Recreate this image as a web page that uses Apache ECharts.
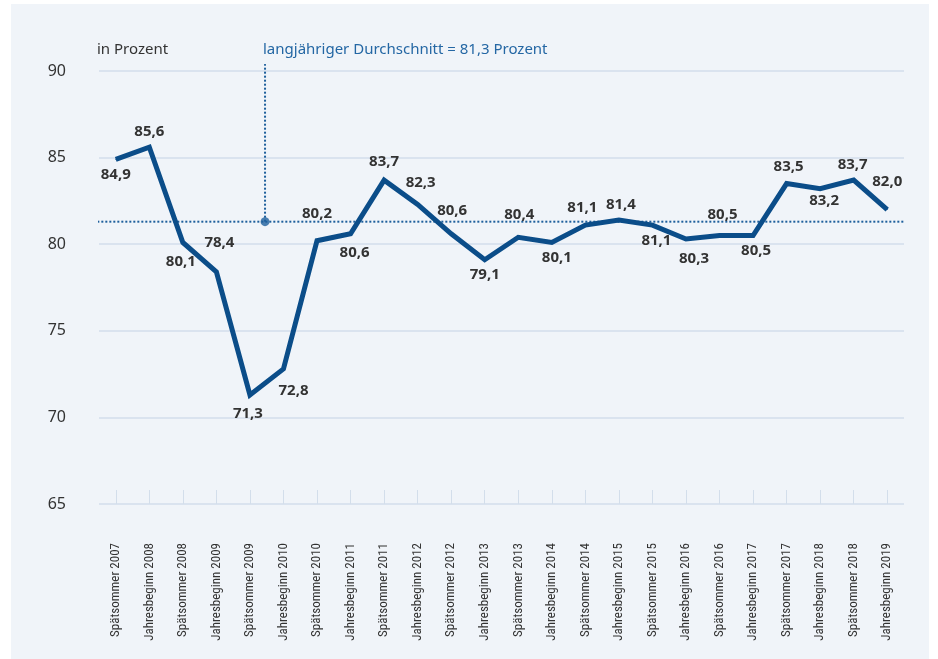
<!DOCTYPE html>
<html>
<head>
<meta charset="utf-8">
<script src="https://cdn.jsdelivr.net/npm/echarts@6/dist/echarts.min.js"></script>
<style>
html,body{margin:0;padding:0;background:#fff;}
#c{width:938px;height:659px;}
</style>
</head>
<body>
<div id="c"></div>
<script>
const categories = ["Spätsommer 2007","Jahresbeginn 2008","Spätsommer 2008","Jahresbeginn 2009","Spätsommer 2009","Jahresbeginn 2010","Spätsommer 2010","Jahresbeginn 2011","Spätsommer 2011","Jahresbeginn 2012","Spätsommer 2012","Jahresbeginn 2013","Spätsommer 2013","Jahresbeginn 2014","Spätsommer 2014","Jahresbeginn 2015","Spätsommer 2015","Jahresbeginn 2016","Spätsommer 2016","Jahresbeginn 2017","Spätsommer 2017","Jahresbeginn 2018","Spätsommer 2018","Jahresbeginn 2019"];
const values = [84.9,85.6,80.1,78.4,71.3,72.8,80.2,80.6,83.7,82.3,80.6,79.1,80.4,80.1,81.1,81.4,81.1,80.3,80.5,80.5,83.5,83.2,83.7,82.0];
const average = 81.3;
const annotationX = 4.45;
const annotationTop = 90.4;
const yTicks = [65,70,75,80,85,90];
// label styling (placement only)
const labelPos = ["bottom","top","bottom","top","bottom","bottom","top","bottom","top","top","top","bottom","top","bottom","top","top","bottom","bottom","top","bottom","top","bottom","top","top"];
const labelOffset = [[0,0],[0,0],[-2,4],[3,-14],[-2,4],[10,7],[0,-12],[4,4],[0,-3],[3,-7],[1,-8],[0,0],[1,-8],[5,0],[-3,-2],[2,0],[4,1],[8,5],[3,-6],[3,0],[2,-2],[4,-3],[-1,0],[0,-13]];

const fmt = v => v.toFixed(1).replace('.', ',');
const chart = echarts.init(document.getElementById('c'), null, {renderer:'canvas'});
const font = '"Noto Sans", "Open Sans", sans-serif';
const navy = '#0b4d89';
const blue = '#1e5f9c';

chart.setOption({
  backgroundColor: '#ffffff',
  animation: false,
  textStyle: {fontFamily: font},
  graphic: [
    {type:'rect', z:-10, silent:true, shape:{x:11,y:4,width:918,height:655}, style:{fill:'#f0f4f9'}},
    {type:'text', left:97, top:42, style:{text:'in Prozent', fill:'#333', font:'15px ' + font}},
    {type:'text', left:263, top:42, style:{text:'langjähriger Durchschnitt = ' + fmt(average) + ' Prozent', fill:'#2467a4', font:'15px ' + font}}
  ],
  grid: {left:99, right:34, top:71, bottom:155},
  xAxis: [{
    type:'category', data:categories, boundaryGap:true,
    axisLine:{show:false},
    axisTick:{show:true, inside:true, length:14, alignWithLabel:true, lineStyle:{color:'#d3deeb', width:1}},
    axisLabel:{rotate:90, margin:39, fontSize:13, color:'#333', interval:0, fontFamily:'"Liberation Sans Narrow", "Roboto Condensed", ' + font}
  },{
    type:'value', min:-0.5, max:categories.length-0.5, show:false
  }],
  yAxis: {
    type:'value', min:yTicks[0], max:yTicks[yTicks.length-1], interval:5,
    axisLine:{show:false}, axisTick:{show:false},
    axisLabel:{fontSize:16, color:'#333', margin:33},
    splitLine:{lineStyle:{color:'#d3deeb', width:1.5}}
  },
  series: [
    {
      type:'line', xAxisIndex:1, symbol:'none', silent:true,
      data:[[-0.55, average],[categories.length-0.45, average]],
      lineStyle:{color:blue, width:2, type:[2,2]}, z:2
    },
    {
      type:'line', xAxisIndex:1, symbol:'none', silent:true, clip:false,
      data:[[annotationX, average],[annotationX, annotationTop]],
      lineStyle:{color:blue, width:2, type:[2,2]}, z:2
    },
    {
      type:'scatter', xAxisIndex:1, symbolSize:9, silent:true,
      data:[[annotationX, average]], itemStyle:{color:blue}, z:3
    },
    {
      type:'line', symbol:'circle', symbolSize:1, showSymbol:true, z:5,
      itemStyle:{color:navy},
      data: values.map((v,i)=>({value:v, label:{position:labelPos[i], offset:labelOffset[i]}})),
      lineStyle:{color:navy, width:5, join:'miter'},
      label:{show:true, distance:7, fontSize:15, fontWeight:'bold', color:'#333', formatter:p=>fmt(p.value)}
    }
  ]
});
</script>
</body>
</html>
